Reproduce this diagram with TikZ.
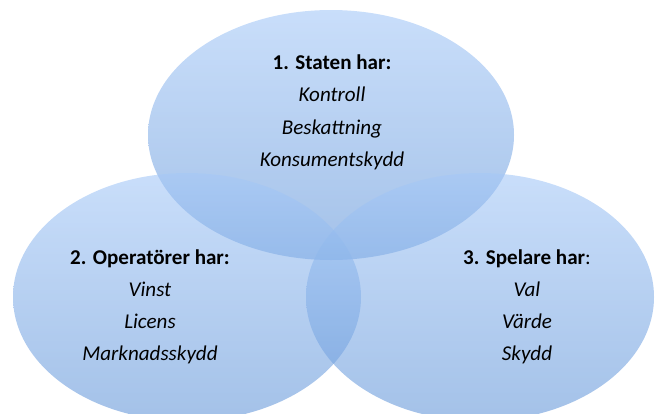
\documentclass[tikz,border=0pt]{standalone}
\usepackage{fontspec}
\setmainfont{Carlito}
\definecolor{venntop}{RGB}{165,200,247}
\definecolor{vennbot}{RGB}{102,152,217}

\begin{document}
\begin{tikzpicture}[x=0.75pt,y=-0.75pt]
                      \tikzstyle{venn}=[top color=venntop,bottom color=vennbot,fill opacity=0.6,draw=none]
                      \tikzstyle{head}=[anchor=base,inner sep=0pt,font=\fontsize{15.8}{19}\selectfont\bfseries]
                      \tikzstyle{item}=[anchor=base,inner sep=0pt,font=\fontsize{15.8}{19}\selectfont\itshape]
                      \useasboundingbox (0,0) rectangle (657,414);
                      \shade[venn] (331,135) ellipse [x radius=183,y radius=125];
                      \shade[venn] (187,297) ellipse [x radius=174,y radius=124];
                      \shade[venn] (480,297) ellipse [x radius=174,y radius=124];
                      % staten
                      \node[head] (staten) at (332,69) {1. Staten har:};
                      \node[item] (kontroll) at (332,101.5) {Kontroll};
                      \node[item] (skatt) at (332,134) {Beskattning};
                      \node[item] (konsument) at (332,166.5) {Konsumentskydd};
                      % operatorer
                      \node[head] (operator) at (150,264) {2. Operatörer har:};
                      \node[item] (vinst) at (150,296) {Vinst};
                      \node[item] (licens) at (150,328) {Licens};
                      \node[item] (marknad) at (150,360) {Marknadsskydd};
                      % spelare
                      \node[head] (spelare) at (527,264) {3. Spelare har\mdseries:};
                      \node[item] (val) at (527,296) {Val};
                      \node[item] (varde) at (527,328) {Värde};
                      \node[item] (skydd) at (527,360) {Skydd};
                  \end{tikzpicture}
\end{document}
